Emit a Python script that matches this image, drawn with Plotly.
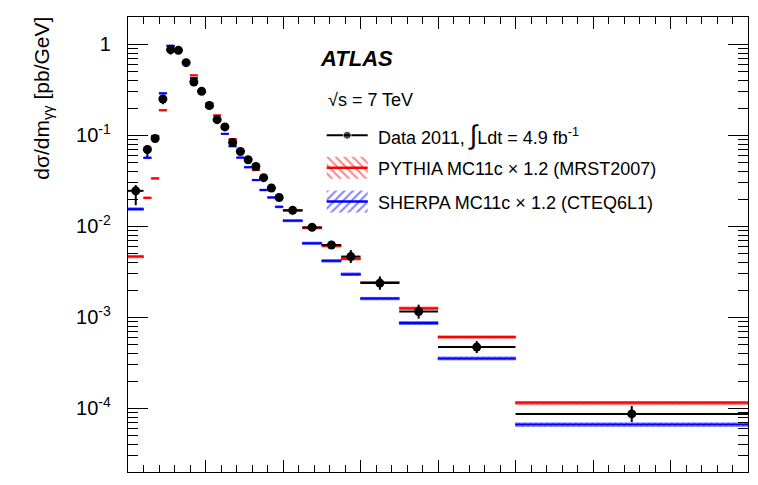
import plotly.graph_objects as go

# ---------------- data ----------------
bin_edges = [0, 20, 30, 40, 50, 60, 70, 80, 90, 100, 110, 120, 130, 140, 150,
             160, 170, 180, 190, 200, 225, 250, 275, 300, 350, 400, 500, 800]

data_vals = [0.0246, 0.070, 0.0925, 0.251, 0.875, 0.86, 0.63, 0.386, 0.305,
             0.213, 0.149, 0.124, 0.0836, 0.0665, 0.0540, 0.0455, 0.0343,
             0.0264, 0.0208, 0.0150, 0.00977, 0.00625, 0.00466, 0.00238,
             0.00116, 0.000472, 0.000087]
data_err_up = [0.0038, 0.007, 0.005, 0.02, 0.05, 0.04, 0.03, 0.02, 0.015,
               0.011, 0.008, 0.006, 0.0045, 0.0035, 0.003, 0.0025, 0.002,
               0.0016, 0.0013, 0.0016, 0.00077, 0.00054, 0.00083, 0.00044,
               0.00022, 0.000077, 0.0000195]
data_err_dn = [0.0075, 0.012, 0.006, 0.031, 0.10, 0.05, 0.03, 0.02, 0.015,
               0.011, 0.008, 0.006, 0.0045, 0.0035, 0.003, 0.0025, 0.002,
               0.0016, 0.0013, 0.0014, 0.0007, 0.0005, 0.0007, 0.00037,
               0.00019, 0.000066, 0.000016]

pythia_vals = [0.00466, 0.0206, 0.0337, 0.189, 0.96, 0.87, 0.63, 0.457, 0.31,
               0.225, 0.166, 0.125, 0.091, 0.067, 0.054, 0.0417, 0.034,
               0.026, 0.0205, 0.0150, 0.0096, 0.0061, 0.0044, 0.00242,
               0.00126, 0.000608, 0.000115]
sherpa_vals = [0.0155, 0.0567, 0.098, 0.29, 0.967, 0.87, 0.63, 0.427, 0.30,
               0.205, 0.148, 0.104, 0.076, 0.057, 0.0447, 0.0323, 0.0251,
               0.0208, 0.0164, 0.01155, 0.00653, 0.00418, 0.00298, 0.00161,
               0.000867, 0.000354, 0.0000664]
pythia_unc = [0.03, 0.02, 0.02, 0.015, 0.01, 0.01, 0.01, 0.01, 0.01, 0.01,
              0.012, 0.012, 0.014, 0.015, 0.016, 0.018, 0.02, 0.02, 0.022,
              0.02, 0.022, 0.025, 0.027, 0.025, 0.03, 0.03, 0.035]
sherpa_unc = [0.03, 0.02, 0.02, 0.015, 0.01, 0.01, 0.01, 0.01, 0.01, 0.01,
              0.012, 0.012, 0.014, 0.015, 0.016, 0.018, 0.02, 0.02, 0.022,
              0.025, 0.027, 0.03, 0.032, 0.03, 0.035, 0.035, 0.04]

y_tick_vals = [1e-4, 1e-3, 1e-2, 1e-1, 1]
y_tick_text = ["10<sup>-4</sup>", "10<sup>-3</sup>", "10<sup>-2</sup>",
               "10<sup>-1</sup>", "1"]
y_minor_vals = [m * 10.0 ** e for e in range(-5, 1) for m in range(2, 10)]

label_font = "Liberation Sans, Arial, Helvetica, sans-serif"
RED = "#ff0000"
BLUE = "#0000ff"

# ---------------- geometry helpers (layout only) ----------------
W, H = 758, 485
L, R, T, B = 128.3, 9.7, 16.5, 12.5
PW, PH = W - L - R, H - T - B


def pxx(x):
    return (x - L) / PW


def pxy(y):
    return (H - B - y) / PH


fig = go.Figure()

lows = bin_edges[:-1]
highs = bin_edges[1:]

# ---------------- MC predictions: hatched bands + central lines ----------------
for vals, unc, color, shape in [(pythia_vals, pythia_unc, RED, "\\"),
                                (sherpa_vals, sherpa_unc, BLUE, "/")]:
    bx, by, lx, ly = [], [], [], []
    for lo, hi, v, u in zip(lows, highs, vals, unc):
        bx += [lo, hi, hi, lo, lo, None]
        by += [v * (1 - u), v * (1 - u), v * (1 + u), v * (1 + u), v * (1 - u), None]
        lx += [lo, hi, None]
        ly += [v, v, None]
    fig.add_trace(go.Scatter(
        x=bx, y=by, mode="lines", fill="toself",
        line=dict(width=0.6, color=color),
        fillcolor="rgba(0,0,0,0)",
        fillpattern=dict(shape=shape, fgcolor=color, bgcolor="rgba(0,0,0,0)",
                         size=4, solidity=0.35),
        hoverinfo="skip", showlegend=False))
    fig.add_trace(go.Scatter(
        x=lx, y=ly, mode="lines", line=dict(color=color, width=2),
        hoverinfo="skip", showlegend=False))

# ---------------- data ----------------
centers = [(lo + hi) / 2 for lo, hi in zip(lows, highs)]
halfw = [(hi - lo) / 2 for lo, hi in zip(lows, highs)]
fig.add_trace(go.Scatter(
    x=centers, y=data_vals, mode="markers",
    marker=dict(color="black", size=9),
    error_x=dict(type="data", array=halfw, symmetric=True, color="black",
                 thickness=2, width=0),
    error_y=dict(type="data", array=data_err_up, arrayminus=data_err_dn,
                 symmetric=False, color="black", thickness=2, width=0),
    showlegend=False))

# ---------------- legend symbols (overlay axes, pixel-like units) ----------------
leg_x0, leg_x1 = 327, 368
fig.add_trace(go.Scatter(
    x=[leg_x0, (leg_x0 + leg_x1) / 2, leg_x1], y=[135, 135, 135],
    mode="lines+markers", line=dict(color="black", width=2),
    marker=dict(color="black", size=[0, 8, 0]),
    xaxis="x2", yaxis="y2", hoverinfo="skip", showlegend=False))
for yc, color, shape in [(167.5, RED, "\\"), (201.5, BLUE, "/")]:
    fig.add_trace(go.Scatter(
        x=[leg_x0, leg_x1, leg_x1, leg_x0, leg_x0],
        y=[yc - 11, yc - 11, yc + 11, yc + 11, yc - 11],
        mode="lines", fill="toself", line=dict(width=0, color=color),
        fillcolor="rgba(0,0,0,0)",
        fillpattern=dict(shape=shape, fgcolor=color, bgcolor="rgba(0,0,0,0)",
                         size=6, solidity=0.32),
        xaxis="x2", yaxis="y2", hoverinfo="skip", showlegend=False))
    fig.add_trace(go.Scatter(
        x=[leg_x0, leg_x1], y=[yc, yc], mode="lines",
        line=dict(color=color, width=2.5),
        xaxis="x2", yaxis="y2", hoverinfo="skip", showlegend=False))

annotations = [
    dict(text="<b><i>ATLAS</i></b>", x=pxx(318), y=pxy(58), size=22),
    dict(text="√s = 7 TeV", x=pxx(326), y=pxy(99.5), size=18),
    dict(text="Data 2011, <span style='font-size:27px'>∫</span>Ldt = 4.9 fb<sup>-1</sup>",
         x=pxx(376), y=pxy(135), size=18),
    dict(text="PYTHIA MC11c × 1.2 (MRST2007)", x=pxx(376), y=pxy(168.5), size=18),
    dict(text="SHERPA MC11c × 1.2 (CTEQ6L1)", x=pxx(376), y=pxy(202.5), size=18),
]
ann_objs = []
for a in annotations:
    ann_objs.append(dict(text=a["text"], x=a["x"], y=a["y"], xref="paper",
                         yref="paper", xanchor="left", yanchor="middle",
                         showarrow=False,
                         font=dict(family=label_font, size=a["size"], color="black")))
# y-axis title (top aligned, as in ROOT)
ann_objs.append(dict(text="dσ/dm<sub>γγ</sub> [pb/GeV]", x=pxx(43), y=pxy(14),
                     xref="paper", yref="paper", xanchor="center", yanchor="top",
                     textangle=-90, showarrow=False,
                     font=dict(family=label_font, size=21, color="black")))

fig.update_layout(
    width=W, height=H,
    margin=dict(l=L, r=R, t=T, b=B, pad=0),
    paper_bgcolor="white", plot_bgcolor="white",
    showlegend=False,
    annotations=ann_objs,
    xaxis=dict(range=[0, 800], showticklabels=False, ticks="inside",
               ticklen=12, tickwidth=1.2, tickcolor="black", tick0=0, dtick=100,
               minor=dict(ticks="inside", ticklen=7, tickwidth=1.2,
                          tickcolor="black", dtick=20, showgrid=False),
               showline=True, linecolor="black", linewidth=1.4,
               mirror="allticks", showgrid=False, zeroline=False),
    yaxis=dict(type="log", range=[-4.699, 0.301], tickmode="array",
               tickvals=y_tick_vals, ticktext=y_tick_text, ticks="inside",
               ticklen=20, tickwidth=1.2, tickcolor="black",
               minor=dict(ticks="inside", ticklen=10, tickwidth=1.2,
                          tickcolor="black", tickmode="array",
                          tickvals=y_minor_vals, showgrid=False),
               showline=True, linecolor="black", linewidth=1.4,
               mirror="allticks", showgrid=False, zeroline=False,
               tickfont=dict(family=label_font, size=20, color="black"),
               ticklabelstandoff=12),
    xaxis2=dict(range=[L, W - R], overlaying="x", anchor="y2", visible=False,
                fixedrange=True),
    yaxis2=dict(range=[H - B, T], overlaying="y", anchor="x2", visible=False,
                fixedrange=True),
)

fig.write_html("out.html")
